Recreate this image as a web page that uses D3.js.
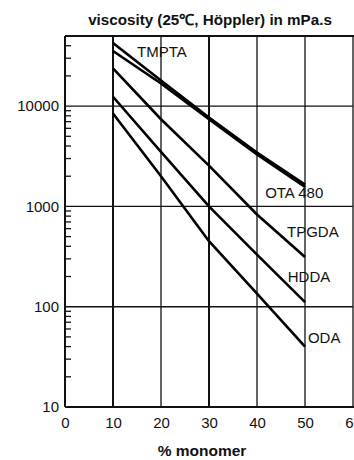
<!DOCTYPE html>
<html>
<head>
<meta charset="utf-8">
<script src="https://cdn.jsdelivr.net/npm/d3@7"></script>
<style>
  html, body { margin: 0; padding: 0; background: #fff; }
  svg { display: block; }
  text { font-family: "Liberation Sans", Arial, Helvetica, sans-serif; fill: #111; }
</style>
</head>
<body>
<svg id="chart" width="354" height="460"></svg>
<script>
(function () {
// ---- data ----
const percentMonomer = [10, 20, 30, 40, 50];
const seriesNames = ["TMPTA", "OTA 480", "TPGDA", "HDDA", "ODA"];
const tmpta  = [42500, 18000, 7700, 3450, 1650];
const ota480 = [35400, 16800, 7400, 3300, 1560];
const tpgda  = [23800, 7400, 2550, 830, 313];
const hdda   = [12400, 3500, 1000, 330, 111];
const oda    = [8430, 2000, 450, 135, 40];
const xTicks = [0, 10, 20, 30, 40, 50, 60];
const yTickLabels = [10, 100, 1000, 10000];
const titleText = "viscosity (25\u2103, H\u00f6ppler) in mPa.s";
const xLabelText = "% monomer";

const seriesValues = [tmpta, ota480, tpgda, hdda, oda];

// ---- layout ----
const svg = d3.select("#chart");
const mLeft = 65, mRight = 353, mTop = 36, mBottom = 407;

const x = d3.scaleLinear().domain([0, 60]).range([mLeft, mRight]);
const y = d3.scaleLog().domain([10, 50000]).range([mBottom, mTop]);

// minor ticks on the left axis (inside)
const minor = [];
[10, 100, 1000, 10000].forEach(d => {
  for (let k = 2; k <= 9; k++) { const v = d * k; if (v < 50000) minor.push(v); }
});
svg.append("g").selectAll("line").data(minor).join("line")
  .attr("x1", mLeft).attr("x2", mLeft + 6)
  .attr("y1", d => y(d)).attr("y2", d => y(d))
  .attr("stroke", "#111").attr("stroke-width", 1.3);

// horizontal grid at decades
svg.append("g").selectAll("line").data([100, 1000, 10000]).join("line")
  .attr("x1", mLeft).attr("x2", mRight)
  .attr("y1", d => y(d)).attr("y2", d => y(d))
  .attr("stroke", "#111").attr("stroke-width", 1.4);

// vertical grid
svg.append("g").selectAll("line").data(xTicks.slice(1)).join("line")
  .attr("x1", d => x(d)).attr("x2", d => x(d))
  .attr("y1", mTop).attr("y2", mBottom)
  .attr("stroke", "#111")
  .attr("stroke-width", d => (d === 10 || d === 30) ? 2 : 1.3);

// frame: top, left, bottom
svg.append("line").attr("x1", mLeft).attr("x2", 354).attr("y1", mTop).attr("y2", mTop)
  .attr("stroke", "#111").attr("stroke-width", 2);
svg.append("line").attr("x1", mLeft).attr("x2", mLeft).attr("y1", mTop).attr("y2", mBottom)
  .attr("stroke", "#111").attr("stroke-width", 2);
svg.append("line").attr("x1", mLeft).attr("x2", 354).attr("y1", mBottom).attr("y2", mBottom)
  .attr("stroke", "#111").attr("stroke-width", 2);

// axis labels via d3 axes (domain/ticks hidden)
const xAxis = svg.append("g").attr("transform", `translate(0,${mBottom})`)
  .call(d3.axisBottom(x).tickValues(xTicks).tickSize(0).tickPadding(10).tickFormat(d3.format("d")));
xAxis.select(".domain").remove();
xAxis.selectAll("text").attr("font-size", 15).attr("font-family", "Liberation Sans, Arial, sans-serif").attr("fill", "#111");

const yAxis = svg.append("g").attr("transform", `translate(${mLeft},0)`)
  .call(d3.axisLeft(y).tickValues(yTickLabels).tickSize(0).tickPadding(6).tickFormat(d3.format("d")));
yAxis.select(".domain").remove();
yAxis.selectAll("text").attr("font-size", 15).attr("font-family", "Liberation Sans, Arial, sans-serif").attr("fill", "#111");

// lines
const line = d3.line().x((d, i) => x(percentMonomer[i])).y(d => y(d));
svg.append("g").selectAll("path").data(seriesValues).join("path")
  .attr("d", d => line(d))
  .attr("fill", "none").attr("stroke", "#000").attr("stroke-width", 2.6);

// series labels (data-space anchors)
const labelAnchors = [[15, 31000], [41.7, 1210], [46.25, 495], [46.4, 176], [50.6, 43.5]];
svg.append("g").selectAll("text").data(seriesNames).join("text")
  .attr("x", (d, i) => x(labelAnchors[i][0]))
  .attr("y", (d, i) => y(labelAnchors[i][1]))
  .attr("font-size", 15)
  .text(d => d);

// title and x label
svg.append("text").attr("x", 210).attr("y", 25).attr("text-anchor", "middle")
  .attr("font-size", 15.2).attr("font-weight", "bold").text(titleText);
svg.append("text").attr("x", 202).attr("y", 456).attr("text-anchor", "middle")
  .attr("font-size", 15.5).attr("font-weight", "bold").text(xLabelText);
})();
</script>
</body>
</html>
